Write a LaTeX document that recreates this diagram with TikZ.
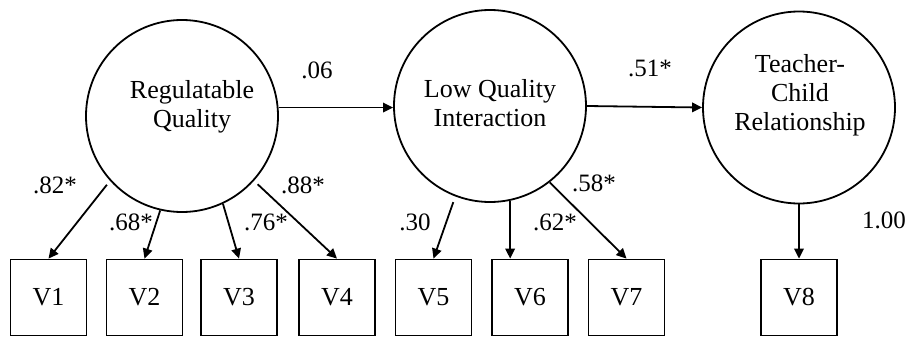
\documentclass[tikz,border=0pt]{standalone}
\usepackage{fontspec}
\setmainfont{Liberation Serif}
\usetikzlibrary{arrows.meta,calc}
\begin{document}
\begin{tikzpicture}[x=1pt,y=-1pt,
 latent/.style={draw, circle, line width=1.8pt, minimum size=192pt, inner sep=0pt},
 obs/.style={draw, rectangle, line width=1.8pt, minimum width=76pt, minimum height=76pt, inner sep=0pt, font=\fontsize{26}{30}\selectfont},
 ctext/.style={align=center, font=\fontsize{26}{29}\selectfont, inner sep=0pt},
 coef/.style={font=\fontsize{25}{30}\selectfont, inner sep=0pt},
 sempath/.style={line width=1.8pt, -{Triangle[length=10pt,width=9.5pt]}}
]
\useasboundingbox (0,0) rectangle (911,338);
\node[latent] (c1) at (182,116) {};
\node[latent] (c2) at (490,106) {};
\node[latent] (c3) at (799,107.5) {};
\node[ctext] (t1) at (192,106.5) {Regulatable\\Quality};
\node[ctext] (t2) at (490,103) {Low Quality\\Interaction};
\node[ctext] (t3) at (800,95) {Teacher-\\Child\\Relationship};
\foreach \n/\x in {1/48.5,2/144.5,3/239,4/337,5/433.5,6/530,7/626.5,8/799}
  \node[obs] (v\n) at (\x,297.5) {V\n};
\draw[sempath, shorten <=5pt] (c1.222) -- (v1.north);
\draw[sempath] (c1.257) -- (v2.north);
\draw[sempath] (c1.295) -- (v3.north);
\draw[sempath, shorten <=5pt] (c1.318) -- (v4.north);
\draw[sempath] (c1.5) -- (c1.5 -| c2.west);
\draw[sempath, shorten <=6pt] (c2.249) -- (v5.north);
\draw[sempath] (c2.282) -- (c2.282 |- v6.north);
\draw[sempath] (c2.308) -- (v7.north);
\draw[sempath] (c2.east) -- (c3.west);
\draw[sempath] (c3.south) -- (v8.north);
\node[coef] (l1) at (55,185) {.82*};
\node[coef] (l2) at (131,222) {.68*};
\node[coef] (l3) at (266,222) {.76*};
\node[coef] (l4) at (303,185) {.88*};
\node[coef] (l5) at (317,70) {.06};
\node[coef] (l6) at (415,222) {.30};
\node[coef] (l7) at (555,222) {.62*};
\node[coef] (l8) at (594,183) {.58*};
\node[coef] (l9) at (650,68) {.51*};
\node[coef] (l10) at (884,220) {1.00};
\end{tikzpicture}
\end{document}
